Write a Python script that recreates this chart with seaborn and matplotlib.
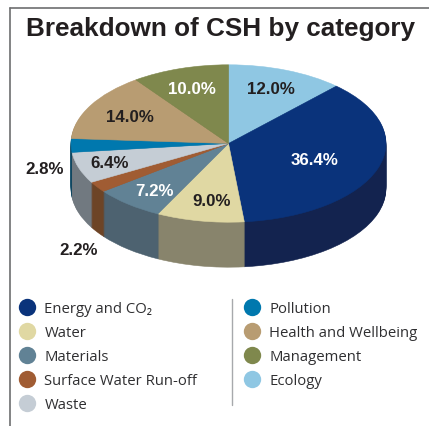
import matplotlib
matplotlib.use("Agg")
import matplotlib.pyplot as plt
import seaborn as sns
from matplotlib.lines import Line2D

sns.set_theme(style="white")
plt.rcParams['font.family'] = ['Liberation Sans', 'DejaVu Sans']

# clockwise from 12 o'clock
categories = ["Ecology", "Energy and CO₂", "Water", "Materials", "Surface Water Run-off",
              "Waste", "Pollution", "Health and Wellbeing", "Management"]
values = [12.0, 36.4, 9.0, 7.2, 2.2, 6.4, 2.8, 14.0, 10.0]
top_colors = ["#8fc7e3", "#0a337b", "#e0d8a3", "#618295", "#a05c33",
              "#c5cdd5", "#0078ae", "#b89c72", "#7f884d"]
side_colors = ["#5f8497", "#13234f", "#88846c", "#4d6270", "#6d4426",
               "#717980", "#003f5c", "#7a684c", "#555b33"]
label_colors = ["#231f20", "white", "#231f20", "white", "#231f20",
                "#231f20", "#231f20", "#231f20", "white"]
# label centres in pixels
label_x = [271, 315, 212, 154, 79, 110, 45, 130, 192]
label_y = [89, 161, 202, 192, 251, 164, 169, 118, 90]

legend_order = ["Energy and CO₂", "Water", "Materials", "Surface Water Run-off", "Waste",
                "Pollution", "Health and Wellbeing", "Management", "Ecology"]

W, H = 429, 427
cx, cy, rx, ry, depth = 228.5, 144.5, 157.5, 78.7, 45


def draw_pie(ax, colors, center):
    wedges, _ = ax.pie(values, colors=colors, startangle=90, counterclock=False,
                       center=center, radius=1)
    for w in wedges:
        w.set_edgecolor(w.get_facecolor())
        w.set_linewidth(0.4)


fig = plt.figure(figsize=(W / 100, H / 100), dpi=100, facecolor="white")
ax = fig.add_axes([0, 0, 1, 1])

# side of the disc: darker pies stacked downwards, then the top face
for k in range(depth, 0, -1):
    draw_pie(ax, side_colors, (0, -k / ry))
draw_pie(ax, top_colors, (0, 0))

ax.set_aspect("auto")
ax.set_xlim(-cx / rx, (W - cx) / rx)
ax.set_ylim(-(H - cy) / ry, cy / ry)
ax.axis("off")

for lab_val, x, y, c in zip(values, label_x, label_y, label_colors):
    fig.text(x / W, 1 - y / H, f"{lab_val:.1f}%", color=c, fontsize=12.2, fontweight="bold",
             ha="center", va="center")

fig.text(220.5 / W, 1 - 29 / H, "Breakdown of CSH by category", color="#231f20", fontsize=18.8,
         fontweight="bold", ha="center", va="center")

# frame and separator
frame = "#6d6e70"
fig.add_artist(Line2D([10 / W, 10 / W], [0, 1 - 8.5 / H], color=frame, lw=1.2))
fig.add_artist(Line2D([10 / W, 1], [1 - 8.5 / H, 1 - 8.5 / H], color=frame, lw=1.2))
fig.add_artist(Line2D([231.5 / W, 231.5 / W], [1 - 300 / H, 1 - 406 / H], color="#a7a9ac", lw=1))

color_of = dict(zip(categories, top_colors))
handles = [Line2D([], [], ls="", marker="o", ms=12.5, mew=0, color=color_of[c]) for c in legend_order]
leg = fig.legend(handles, legend_order, ncols=2, loc="upper left", bbox_to_anchor=(15 / W, 1 - 302 / H),
                 frameon=False, labelspacing=0.61, handletextpad=0.38, columnspacing=2.87,
                 borderpad=0, borderaxespad=0, handlelength=1.6,
                 prop={"family": ["Open Sans", "DejaVu Sans"], "size": 10.7})
for t in leg.get_texts():
    t.set_color("#2f2f31")

fig.savefig("out.png", dpi=100)
